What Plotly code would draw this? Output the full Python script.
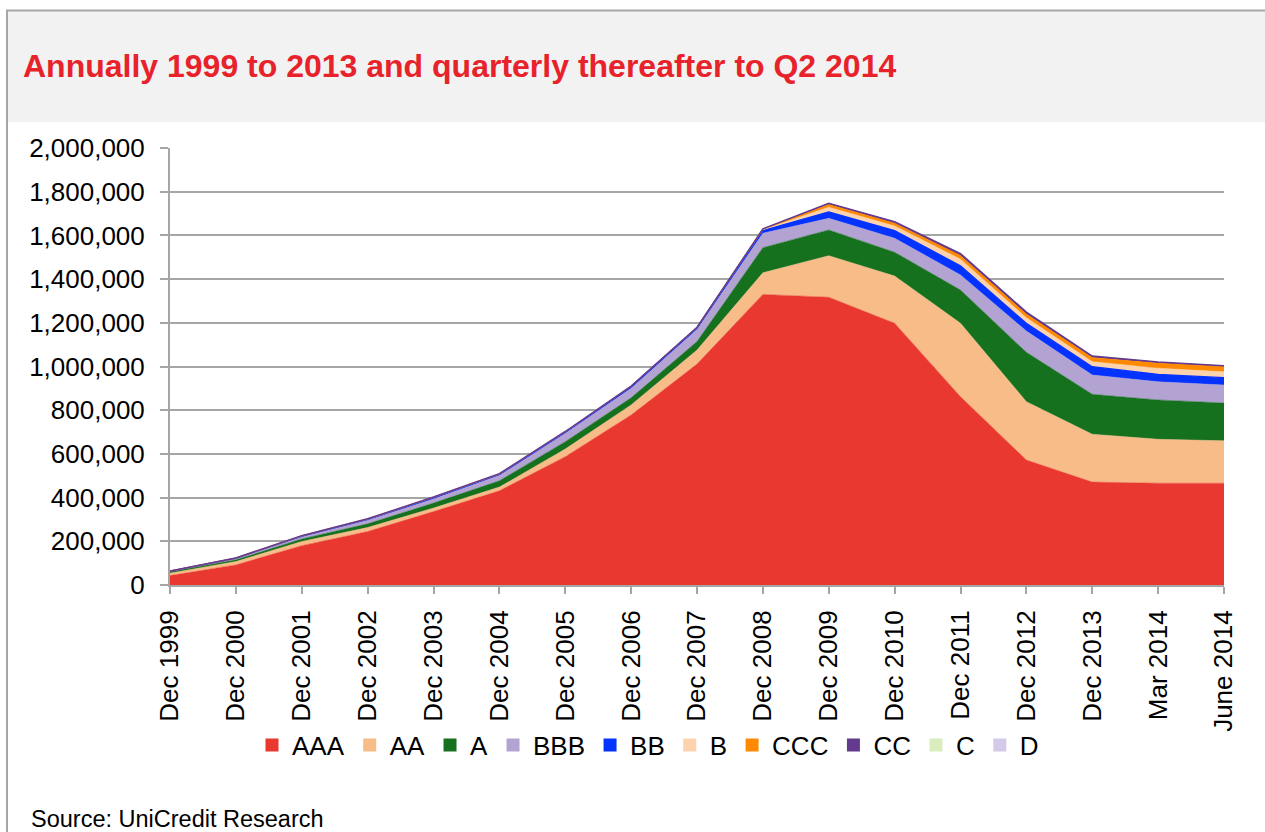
import plotly.graph_objects as go

categories = ["Dec 1999", "Dec 2000", "Dec 2001", "Dec 2002", "Dec 2003", "Dec 2004",
              "Dec 2005", "Dec 2006", "Dec 2007", "Dec 2008", "Dec 2009", "Dec 2010",
              "Dec 2011", "Dec 2012", "Dec 2013", "Mar 2014", "June 2014"]

AAA = [43000, 92000, 180000, 245000, 336000, 431000, 587000, 778000, 1011000, 1330000,
       1317000, 1198000, 862000, 572000, 471000, 466000, 466000]
AA = [11000, 15000, 19000, 18000, 16000, 17000, 35000, 46000, 64000, 99000,
      190000, 216000, 336000, 267000, 219000, 201000, 194000]
A = [7000, 8000, 12000, 17000, 23000, 29000, 34000, 33000, 39000, 115000,
     118000, 109000, 152000, 226000, 183000, 180000, 173000]
BBB = [2000, 7000, 11000, 17000, 20000, 26000, 38000, 43000, 56000, 66000,
       53000, 64000, 69000, 97000, 88000, 83000, 82000]
BB = [500, 1000, 2000, 3000, 4000, 3000, 5000, 7000, 6000, 12000,
      30000, 35000, 42000, 36000, 38000, 34000, 34000]
B = [300, 500, 1000, 1500, 2000, 2000, 2000, 2000, 2000, 4000,
     21000, 21000, 30000, 25000, 23000, 28000, 27000]
CCC = [200, 300, 500, 1000, 1000, 1000, 1000, 1000, 1000, 3000,
       12000, 12000, 16000, 16000, 18000, 23000, 23000]
CC = [100, 200, 300, 500, 500, 500, 500, 500, 500, 1000,
      6000, 8000, 10000, 10000, 8000, 6000, 5000]
C = [0, 0, 0, 0, 0, 0, 0, 0, 0, 0, 0, 0, 0, 0, 0, 0, 0]
D = [0, 0, 0, 0, 0, 0, 0, 0, 0, 0, 0, 0, 0, 0, 0, 0, 0]

series = [
    ("AAA", AAA, "#E93830", 0.5),
    ("AA", AA, "#F8BC88", 0.5),
    ("A", A, "#16711E", 0.5),
    ("BBB", BBB, "#B3A3D3", 0.5),
    ("BB", BB, "#0433FF", 1.2),
    ("B", B, "#FDD3AE", 0.5),
    ("CCC", CCC, "#FF8A00", 1.0),
    ("CC", CC, "#643A8E", 1.5),
    ("C", C, "#D9EDBE", 0),
    ("D", D, "#D4C9E8", 0),
]

FONT = "Arial, Liberation Sans, sans-serif"

fig = go.Figure()
for name, vals, color, lw in series:
    fig.add_trace(go.Scatter(
        x=categories, y=vals, name=name, stackgroup="one", mode="lines",
        line=dict(color=color, width=lw), fillcolor=color, showlegend=False,
        hoverinfo="x+y+name"))
for name, vals, color, lw in series:
    fig.add_trace(go.Scatter(
        x=[None], y=[None], name=name, mode="markers",
        marker=dict(symbol="square", size=13, color=color), showlegend=True))

# plot area: x 170..1224, y 148..585 px
L, R, T, Bt = 170, 1224, 148, 585
W, H = 1265, 832
pw, ph = R - L, Bt - T

def px(x):
    return (x - L) / pw

def py(y):
    return (Bt - y) / ph

shapes = [
    dict(type="rect", xref="paper", yref="paper", x0=px(7), x1=px(1266), y0=py(122), y1=py(11),
         fillcolor="#F2F2F2", line=dict(width=0), layer="below"),
    dict(type="line", xref="paper", yref="paper", x0=px(6), x1=px(1266), y0=py(10.5), y1=py(10.5),
         line=dict(color="#A6A6A6", width=2)),
    dict(type="line", xref="paper", yref="paper", x0=px(7), x1=px(7), y0=py(10), y1=py(833),
         line=dict(color="#A6A6A6", width=2)),
]

fig.update_layout(
    width=W, height=H,
    margin=dict(l=L, r=W - R, t=T, b=H - Bt, pad=0),
    paper_bgcolor="white", plot_bgcolor="white",
    font=dict(family=FONT, size=26, color="black"),
    shapes=shapes,
    showlegend=True,
    legend=dict(orientation="h", x=px(648), xanchor="center", y=py(745), yanchor="middle",
                font=dict(size=26), itemsizing="trace", bgcolor="rgba(0,0,0,0)",
                traceorder="normal", tracegroupgap=0, itemwidth=30),
    annotations=[
        dict(text="Annually 1999 to 2013 and quarterly thereafter to Q2 2014",
             xref="paper", yref="paper", x=px(21), y=py(66), xanchor="left", yanchor="middle",
             showarrow=False, font=dict(family=FONT, size=32, color="#E8222B", weight="bold")),
        dict(text="Source: UniCredit Research",
             xref="paper", yref="paper", x=px(29), y=py(819), xanchor="left", yanchor="middle",
             showarrow=False, font=dict(family=FONT, size=23.5, color="black")),
    ],
)

fig.update_xaxes(
    type="category", range=[0, len(categories) - 1],
    tickangle=-90, tickfont=dict(size=26), ticklabelstandoff=6,
    showline=True, linecolor="#A6A6A6", linewidth=2,
    ticks="outside", ticklen=7, tickcolor="#A6A6A6", tickwidth=2,
    showgrid=False, zeroline=False,
)
fig.update_yaxes(
    range=[0, 2000000], dtick=200000, tickformat=",d",
    tickfont=dict(size=26), ticklabelstandoff=10,
    showline=True, linecolor="#A6A6A6", linewidth=2,
    ticks="outside", ticklen=8, tickcolor="#A6A6A6", tickwidth=2,
    showgrid=True, gridcolor="#A6A6A6", gridwidth=2, zeroline=False,
)

fig.write_html("out.html", config={"displayModeBar": False},
               post_script="document.body.style.margin='0';document.body.style.overflow='hidden';")
